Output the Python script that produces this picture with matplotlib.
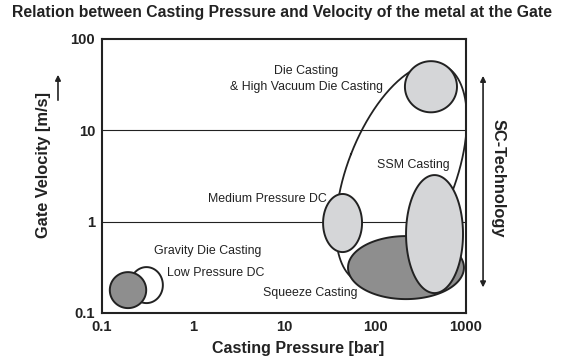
import numpy as np
import matplotlib.pyplot as plt
from matplotlib.patches import FancyArrowPatch

plt.rcParams['font.family'] = ['Liberation Sans', 'DejaVu Sans']

# process regions: centre (pressure in bar, velocity in m/s) and half-spans in decades
processes = ['Gravity Die Casting', 'Low Pressure DC', 'Medium Pressure DC',
             'Squeeze Casting', 'SSM Casting', 'Die Casting']
center_pressure = [0.193, 0.308, 44, 219, 451, 412]
center_velocity = [0.178, 0.202, 0.966, 0.314, 0.731, 30]
pressure_span = [0.20, 0.18, 0.214, 0.637, 0.313, 0.286]
velocity_span = [0.197, 0.197, 0.318, 0.345, 0.646, 0.28]

# points on the envelope around the pressure die casting family
envelope_pressure = [36.3, 50.5, 38.2, 53, 73.8, 122, 262, 518, 796, 1000, 1000]
envelope_velocity = [0.489, 0.318, 2.0, 4.39, 10, 23.2, 48, 56, 31.3, 16.7, 6.56]

x_ticks = [0.1, 1, 10, 100, 1000]
y_ticks = [0.1, 1, 10, 100]

light = '#d5d6d8'
dark = '#8e8e8e'
ink = '#222222'


def log_ellipse(cx, cy, a, b, n=300):
    t = np.linspace(0, 2*np.pi, n)
    return 10**(np.log10(cx) + a*np.cos(t)), 10**(np.log10(cy) + b*np.sin(t))


def fit_envelope(p, v, n=400):
    # least-squares conic in log space, returned as a closed outline
    x, y = np.log10(p), np.log10(v)
    A = np.column_stack([x*x, x*y, y*y, x, y])
    a, b, c, d, e = np.linalg.lstsq(A, np.ones_like(x), rcond=None)[0]
    M = np.array([[a, b/2], [b/2, c]])
    g = np.array([d, e])
    ctr = -0.5*np.linalg.solve(M, g)
    r = 1 - 0.5*g @ ctr
    lam, vec = np.linalg.eigh(M)
    t = np.linspace(0, 2*np.pi, n)
    q = vec @ np.vstack([np.sqrt(r/lam[0])*np.cos(t), np.sqrt(r/lam[1])*np.sin(t)])
    return 10**(ctr[0] + q[0]), 10**(ctr[1] + q[1])


fig = plt.figure(figsize=(5.63, 3.6), dpi=100)
ax = fig.add_axes([0.1812, 0.1306, 0.6465, 0.7611])
ax.set_xscale('log')
ax.set_yscale('log')
ax.set_xlim(0.1, 1000)
ax.set_ylim(0.1, 100)

for v in [1, 10]:
    ax.axhline(v, color=ink, lw=0.8, zorder=1)

ex, ey = fit_envelope(envelope_pressure, envelope_velocity)
ax.plot(ex, ey, color=ink, lw=1.3, zorder=2)

fills = {'Gravity Die Casting': dark, 'Low Pressure DC': 'white',
         'Medium Pressure DC': light, 'Squeeze Casting': dark,
         'SSM Casting': light, 'Die Casting': light}
order = {'Medium Pressure DC': 3, 'Squeeze Casting': 3, 'SSM Casting': 4,
         'Die Casting': 3, 'Low Pressure DC': 3, 'Gravity Die Casting': 4}
for name, cx, cy, a, b in zip(processes, center_pressure, center_velocity,
                              pressure_span, velocity_span):
    px, py = log_ellipse(cx, cy, a, b)
    ax.fill(px, py, facecolor=fills[name], edgecolor=ink, lw=1.4, zorder=order[name])

label_kw = dict(fontsize=8.9, color=ink, va='center', zorder=6)
ax.text(17.5, 36.5, 'Die Casting\n& High Vacuum Die Casting', ha='center',
        linespacing=1.35, **label_kw)
ax.text(262, 4.17, 'SSM Casting', ha='center', **label_kw)
ax.text(29.7, 1.77, 'Medium Pressure DC', ha='right', **label_kw)
ax.text(1.44, 0.476, 'Gravity Die Casting', ha='center', **label_kw)
ax.text(1.79, 0.274, 'Low Pressure DC', ha='center', **label_kw)
ax.text(19.3, 0.165, 'Squeeze Casting', ha='center', **label_kw)

ax.set_xticks(x_ticks)
ax.set_xticklabels([f'{t:g}' for t in x_ticks])
ax.set_yticks(y_ticks)
ax.set_yticklabels([f'{t:g}' for t in y_ticks])
ax.minorticks_off()
ax.tick_params(length=0, pad=5, labelsize=10.6, labelcolor=ink)
for lab in ax.get_xticklabels() + ax.get_yticklabels():
    lab.set_fontweight('bold')
for s in ax.spines.values():
    s.set_linewidth(1.5)
    s.set_color(ink)

fig.text(0.53, 0.033, 'Casting Pressure [bar]', fontsize=11.5, fontweight='bold',
         color=ink, ha='center', va='center')
fig.text(0.077, 0.543, 'Gate Velocity [m/s]', rotation=90, fontsize=11.8,
         fontweight='bold', color=ink, ha='center', va='center')
fig.text(0.5, 0.966, 'Relation between Casting Pressure and Velocity of the metal at the Gate',
         fontsize=11.3, fontweight='bold', color=ink, ha='center', va='center')
fig.text(0.885, 0.505, 'SC-Technology', rotation=-90, fontsize=11.8,
         fontweight='bold', color=ink, ha='center', va='center')

# arrows outside the axes
fig.patches.append(FancyArrowPatch((0.103, 0.714), (0.103, 0.8), transform=fig.transFigure,
                                   arrowstyle='-|>', mutation_scale=8, color=ink, lw=1.2))
fig.patches.append(FancyArrowPatch((0.858, 0.194), (0.858, 0.797), transform=fig.transFigure,
                                   arrowstyle='<|-|>', mutation_scale=8, color=ink, lw=1.2))

fig.savefig('out.png', dpi=100)
